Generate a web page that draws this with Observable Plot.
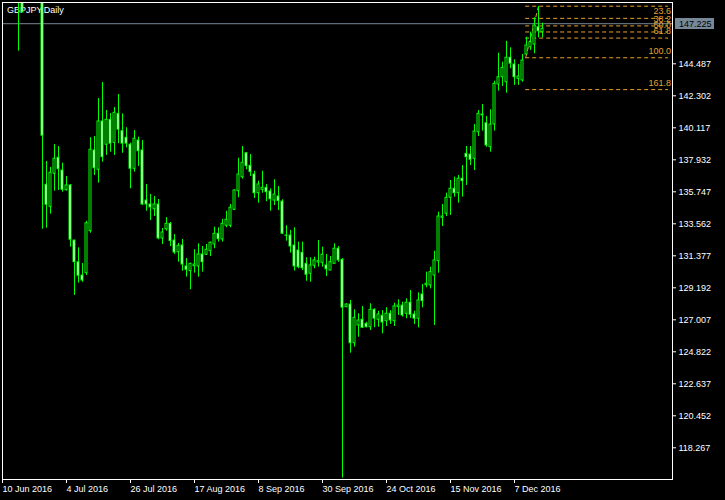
<!DOCTYPE html>
<html><head><meta charset="utf-8">
<script src="https://cdn.jsdelivr.net/npm/d3@7"></script>
<script src="https://cdn.jsdelivr.net/npm/@observablehq/plot@0.6"></script>
<style>
html,body{margin:0;padding:0;background:#000;overflow:hidden;}
#chart svg{display:block;}
</style></head><body><div id="chart"></div>
<script>
const symbol = "GBPJPY,Daily";
const dateLabels = ["10 Jun 2016","4 Jul 2016","26 Jul 2016","17 Aug 2016","8 Sep 2016","30 Sep 2016","24 Oct 2016","15 Nov 2016","7 Dec 2016"];
const dateTickIndex = [0,16,32,48,64,80,96,112,128];
const opens = [154.0,151.8,150.7,150.0,150.9,149.5,151.5,153.0,153.3,154.9,
159.9,136.23,134.72,136.98,138.07,137.20,135.86,136.18,132.42,130.94,
130.03,130.19,133.06,138.57,137.25,140.55,138.96,140.66,139.09,141.07,
139.89,139.44,138.96,137.32,139.25,138.57,135.15,134.88,134.56,134.88,
132.56,133.19,133.56,132.42,131.62,132.08,130.65,130.33,130.67,130.65,
131.47,131.45,131.69,132.15,132.88,132.49,133.43,133.43,134.52,135.79,
136.74,138.38,137.52,136.93,135.65,135.88,136.02,135.77,135.15,135.43,
135.08,132.76,132.76,132.08,131.74,131.58,130.83,130.15,130.70,130.92,
130.90,130.72,130.37,130.83,131.86,131.10,127.87,128.05,125.41,126.62,
127.01,126.73,126.50,127.69,127.01,127.28,126.91,127.42,126.91,127.87,
127.98,127.42,128.17,127.37,127.08,128.74,129.37,129.35,130.03,131.01,
133.97,134.25,135.34,135.95,135.65,136.64,138.34,138.29,138.00,139.82,
141.03,140.43,138.79,140.34,143.07,143.57,143.23,144.90,144.44,143.46,
143.35,145.12,145.62,145.80,146.99,146.65];
const highs = [154.6,152.4,151.3,151.4,151.3,150.2,153.3,154.0,155.2,160.2,
160.6,137.82,137.41,138.98,138.84,137.70,136.79,136.25,132.42,131.92,
130.85,133.74,139.44,139.52,142.12,143.21,141.30,141.09,141.50,142.39,
141.07,140.12,139.07,139.93,139.48,139.25,136.25,135.56,135.43,135.22,
133.24,133.99,133.65,132.83,132.22,132.49,131.19,130.87,131.79,132.20,
132.01,132.15,132.31,133.33,133.29,133.86,134.42,134.88,135.88,138.04,
138.84,138.43,138.29,137.15,136.47,137.15,136.25,135.95,136.57,136.11,
135.20,133.43,133.11,133.29,132.31,132.31,131.24,131.24,131.28,132.42,
131.97,131.47,131.33,132.20,132.01,131.19,128.10,128.33,127.69,127.42,
127.92,126.84,128.10,127.76,127.59,127.64,127.83,127.64,128.14,128.37,
128.21,128.44,129.01,127.59,128.85,129.42,130.26,130.60,131.69,134.35,
134.88,135.65,136.52,136.75,136.86,137.54,138.84,138.84,140.34,141.30,
141.71,140.89,141.35,143.30,145.21,144.60,146.03,145.58,144.76,144.44,
145.12,146.30,146.65,147.63,148.40,147.26];
const lows = [152.1,150.2,149.3,149.6,145.35,147.99,150.9,152.2,152.7,154.3,
133.19,133.26,134.22,135.79,135.84,135.72,135.79,131.97,128.67,129.51,
129.57,130.03,132.92,136.86,136.34,137.77,138.23,138.45,138.23,139.03,
138.38,138.75,135.95,137.09,137.48,134.81,134.42,133.79,134.06,132.47,
132.15,133.06,132.01,131.47,130.94,130.33,129.92,129.06,130.19,129.92,
130.26,131.40,131.33,131.86,132.31,132.31,133.29,133.29,134.47,135.34,
136.61,137.25,136.79,135.29,134.97,135.65,135.07,134.42,134.81,134.47,
132.83,132.38,131.56,130.33,130.49,130.37,129.64,129.57,130.49,130.60,
130.60,129.96,130.37,130.83,130.94,116.20,127.83,124.73,125.14,125.82,
126.41,126.46,126.28,126.46,126.50,126.05,126.55,126.69,126.55,127.30,
127.19,127.08,127.10,126.69,126.46,127.83,129.19,129.12,126.62,130.19,
133.38,134.06,134.13,135.38,134.97,135.38,136.18,137.54,137.20,139.52,
139.89,138.79,138.45,139.89,142.62,142.94,142.48,144.15,143.01,143.01,
143.23,145.12,145.40,145.17,146.26,146.26];
const closes = [152.5,150.7,150.0,151.0,149.0,147.99,153.0,153.3,154.9,159.9,
139.57,134.86,137.05,138.00,137.29,135.88,136.18,132.47,130.94,130.01,
129.69,133.60,138.62,137.36,140.55,138.11,140.66,139.03,141.14,139.98,
139.03,139.03,137.32,139.37,138.52,134.88,134.88,134.68,134.88,132.56,
132.97,133.56,132.38,131.60,132.06,130.78,130.42,130.83,130.78,131.47,
130.94,131.79,132.27,132.88,132.51,133.56,133.84,134.66,135.84,136.93,
137.73,137.50,137.09,135.65,136.25,136.02,135.72,135.24,135.56,135.11,
132.88,132.74,132.01,130.65,130.60,130.53,130.08,130.72,131.06,131.01,
131.45,130.46,130.94,131.86,131.06,127.83,128.05,125.41,127.14,126.96,
126.46,126.50,127.69,127.08,127.37,126.82,127.42,126.96,127.92,127.98,
127.30,128.17,127.35,127.08,128.33,128.28,129.47,130.26,131.06,134.06,
134.06,135.34,135.95,135.65,136.64,136.47,138.11,137.93,139.86,141.07,
140.96,138.91,140.34,143.12,143.57,144.21,144.90,144.49,143.57,143.62,
144.71,145.74,145.96,147.10,146.71,146.88];
const priceTicks = [118.267,120.452,122.637,124.822,127.007,129.192,131.377,133.562,135.747,137.932,140.117,142.302,144.487];
const bidPrice = 147.225;
const fibLevels = [0,23.6,38.2,50,61.8,100,161.8];
const fibLabels = ["","23.6","38.2","50.0","61.8","100.0","161.8"];
const fibHigh = 148.42, fibLow = 144.90, fibStartIndex = 130.8, fibEndIndex = 134;

const bars = opens.map((o,i)=>({i, open:o, high:highs[i], low:lows[i], close:closes[i], bull: closes[i] >= o}));
const W=725, H=500, mL=2, mR=53, mT=2, mB=21;
const xDomain = [0, (W-mL-mR)/4];
const yDomain = [116.102, 148.673];
const GREEN="#00ff00", FIB="#e8a030", BID="#778899";
const FONT = "'Liberation Sans', Arial, sans-serif";
const fib = fibLevels.map((l,k)=>({price: fibHigh - (fibHigh-fibLow)*l/100, label: fibLabels[k]}));

const chart = Plot.plot({
  width: W, height: H, marginLeft: mL, marginRight: mR, marginTop: mT, marginBottom: mB,
  style: {background:"#000", color:"#fff", fontFamily: FONT, fontSize:"9px"},
  x: {domain: xDomain, axis: null, label: null},
  y: {domain: yDomain, axis: null, label: null},
  marks: [
    Plot.text([symbol], {frameAnchor:"top-left", text: d=>d, dx: 4.5, dy: 4, lineAnchor:"top", fill:"#fff"}),
    Plot.ruleY([bidPrice], {stroke: BID}),
    Plot.ruleY(fib, {y:"price", x1: fibStartIndex, x2: xDomain[1]-1, stroke: FIB, strokeDasharray:"4,3"}),
    Plot.link([0], {x1: fibStartIndex, y1: fibLow, x2: fibEndIndex, y2: fibHigh, stroke: FIB, strokeDasharray:"4,3"}),
    Plot.text(fib, {y:"price", text:"label", frameAnchor:"right", textAnchor:"end", dx:-1.5, dy:-4, lineAnchor:"bottom", fill: FIB}),
    Plot.ruleX(bars, {x:"i", y1:"low", y2:"high", stroke: GREEN, clip: true}),
    Plot.rect(bars, {x1: d=>d.i-0.375, x2: d=>d.i+0.375, y1:"open", y2:"close", fill: GREEN, insetTop:-0.5, insetBottom:-0.5, clip: true}),
    Plot.rect(bars.filter(d=>d.bull), {x1: d=>d.i-0.125, x2: d=>d.i+0.125, y1:"open", y2:"close", fill: "#000", insetTop:0.5, insetBottom:0.5, clip: true}),
    Plot.rect(bars.filter(d=>!d.bull), {x1: d=>d.i-0.125, x2: d=>d.i+0.125, y1:"open", y2:"close", fill: "#fff", insetTop:0.5, insetBottom:0.5, clip: true}),
    Plot.axisX({anchor:"bottom", ticks: dateTickIndex, tickFormat: (d,i)=>dateLabels[i], textAnchor:"start", tickSize:4, tickPadding:2.5, color:"#fff", label: null}),
    Plot.axisY({anchor:"right", ticks: priceTicks, tickFormat: d=>d.toFixed(3), tickSize:3, tickPadding:3, color:"#fff", label: null}),
    Plot.frame({stroke:"#fff"})
  ]
});
document.getElementById("chart").appendChild(chart);

// bid price box on the right scale
const yb = chart.scale("y").apply(bidPrice);
const svg = d3.select(chart);
const gBox = svg.append("g");
gBox.append("rect").attr("x", W-mR+3).attr("y", Math.round(yb)-5).attr("width", 39).attr("height", 11).attr("fill", BID);
gBox.append("text").attr("x", W-mR+7).attr("y", Math.round(yb)+3.5)
  .style("fill", "#000").style("font-family", FONT).style("font-size", "9px")
  .attr("text-anchor", "start").text(bidPrice.toFixed(3));
</script>
</body></html>
